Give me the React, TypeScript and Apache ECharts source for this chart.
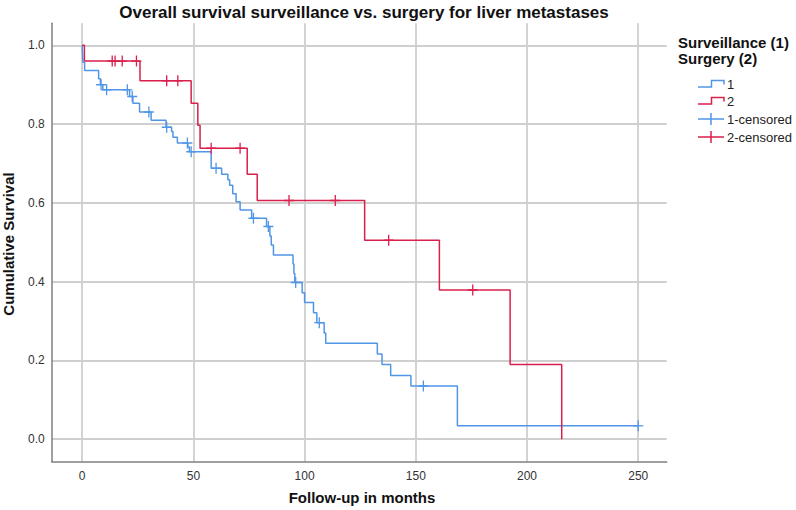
import React, { useEffect, useRef } from "react";
import * as echarts from "echarts";

const chartTitle = "Overall survival surveillance vs. surgery for liver metastases";
const xAxisTitle = "Follow-up in months";
const yAxisTitle = "Cumulative Survival";
const legendHeadings = ["Surveillance (1)", "Surgery (2)"];
const legendLabels = ["1", "2", "1-censored", "2-censored"];

// Group 1: surveillance (event times, survival after the event)
const surveillanceTimes = [0, 0.3, 1.1, 7.4, 8.2, 9.3, 21.3, 22.8, 25.8, 31, 37.7, 40.2, 40.8, 42.8, 47.5, 48.2, 58, 62.7, 65.5, 66.3, 67.7, 69.2, 71, 76.2, 82.9, 84.4, 85, 86, 94.8, 95.2, 95.6, 98.9, 100, 104, 105.5, 108.8, 109.5, 132.7, 134.8, 138.7, 147.8, 168.7, 250];
const surveillanceSurvival = [1, 0.957, 0.936, 0.915, 0.9, 0.887, 0.87, 0.853, 0.831, 0.81, 0.792, 0.781, 0.767, 0.752, 0.742, 0.73, 0.688, 0.673, 0.659, 0.645, 0.623, 0.603, 0.582, 0.561, 0.54, 0.516, 0.493, 0.468, 0.445, 0.421, 0.398, 0.372, 0.347, 0.321, 0.296, 0.27, 0.244, 0.2165, 0.19, 0.162, 0.135, 0.034, 0.034];
const surveillanceCensored = [8.5, 11, 20.3, 22.5, 30, 38, 47.3, 49, 60.2, 77, 83.7, 96, 106.6, 153.4, 250];

// Group 2: surgery
const surgeryTimes = [0, 1, 26, 49, 52, 53, 74.2, 78.7, 127, 160.6, 192.4, 215.6];
const surgerySurvival = [1, 0.96, 0.91, 0.853, 0.797, 0.739, 0.673, 0.606, 0.505, 0.379, 0.19, 0];
const surgeryCensored = [13.5, 14.8, 18, 24.4, 38, 43, 58, 71, 93, 113.8, 137.8, 175.6];

const BLUE = "#5096e6";
const RED = "#d91f4b";
const FONT = '"Liberation Sans", Arial, sans-serif';

const PLUS =
  "path://M8.7,0 L11.3,0 L11.3,8.7 L20,8.7 L20,11.3 L11.3,11.3 L11.3,20 L8.7,20 L8.7,11.3 L0,11.3 L0,8.7 L8.7,8.7 Z";

function levelAt(times: number[], surv: number[], t: number) {
  let v = surv[0];
  for (let i = 0; i < times.length; i++) {
    if (times[i] <= t) v = surv[i];
  }
  return v;
}

export default function App() {
  const ref = useRef<HTMLDivElement>(null);

  useEffect(() => {
    if (!ref.current) return;
    const chart = echarts.init(ref.current, undefined, { renderer: "svg" });

    const stepData = (times: number[], surv: number[]) => times.map((t, i) => [t, surv[i]]);
    const censorData = (times: number[], surv: number[], cens: number[]) =>
      cens.map((t) => [t, levelAt(times, surv, t)]);

    const legendX = 698;
    const rowsY = [84, 101, 119, 137];
    const colors = [BLUE, RED, BLUE, RED];
    const legendGraphics: any[] = [];
    legendHeadings.forEach((h, i) => {
      legendGraphics.push({
        type: "text",
        x: 678,
        y: 42 + i * 16,
        style: {
          text: h,
          fill: "#111",
          font: `bold 15px ${FONT}`,
          align: "left",
          verticalAlign: "middle",
          textAlign: "left",
          textVerticalAlign: "middle",
        },
      });
    });
    legendLabels.forEach((lab, i) => {
      const cy = rowsY[i];
      if (i < 2) {
        legendGraphics.push({
          type: "polyline",
          shape: {
            points: [
              [legendX, cy + 3],
              [legendX + 13.5, cy + 3],
              [legendX + 13.5, cy - 3.5],
              [legendX + 26, cy - 3.5],
              [legendX + 26, cy + 0.5],
            ],
          },
          style: { stroke: colors[i], lineWidth: 1.5, fill: "none" },
        });
      } else {
        legendGraphics.push({
          type: "line",
          shape: { x1: legendX, y1: cy, x2: legendX + 26, y2: cy },
          style: { stroke: colors[i], lineWidth: 1.5 },
        });
        legendGraphics.push({
          type: "line",
          shape: { x1: legendX + 13, y1: cy - 6, x2: legendX + 13, y2: cy + 6 },
          style: { stroke: colors[i], lineWidth: 1.5 },
        });
      }
      legendGraphics.push({
        type: "text",
        x: legendX + 29,
        y: cy,
        style: {
          text: lab,
          fill: "#222",
          font: `13px ${FONT}`,
          align: "left",
          verticalAlign: "middle",
          textAlign: "left",
          textVerticalAlign: "middle",
        },
      });
    });

    chart.setOption({
      animation: false,
      backgroundColor: "#ffffff",
      grid: { left: 51.7, right: 129.3, top: 23.3, bottom: 48.3, containLabel: false },
      xAxis: {
        type: "value",
        min: -13.7,
        max: 262.8,
        axisLine: { show: true, onZero: false, lineStyle: { color: "#808080", width: 1.5 } },
        axisTick: { show: false },
        axisLabel: {
          color: "#333",
          fontSize: 12,
          fontFamily: FONT,
          margin: 8,
          showMinLabel: false,
          showMaxLabel: false,
        },
        splitLine: {
          show: true,
          showMinLine: false,
          showMaxLine: false,
          lineStyle: { color: "#cfcfcf", width: 1.8 },
        },
      },
      yAxis: {
        type: "value",
        min: -0.057,
        max: 1.056,
        axisLine: { show: true, onZero: false, lineStyle: { color: "#808080", width: 1.5 } },
        axisTick: { show: false },
        axisLabel: {
          color: "#333",
          fontSize: 12,
          fontFamily: FONT,
          margin: 7,
          showMinLabel: false,
          showMaxLabel: false,
          formatter: (v: number) => v.toFixed(1),
        },
        splitLine: {
          show: true,
          showMinLine: false,
          showMaxLine: false,
          lineStyle: { color: "#cfcfcf", width: 1.8 },
        },
      },
      graphic: [
        {
          type: "text",
          x: 364,
          y: 12,
          style: {
            text: chartTitle,
            fill: "#111",
            font: `bold 17px ${FONT}`,
            align: "center",
            verticalAlign: "middle",
            textAlign: "center",
            textVerticalAlign: "middle",
          },
        },
        {
          type: "text",
          x: 362,
          y: 497,
          style: {
            text: xAxisTitle,
            fill: "#111",
            font: `bold 15px ${FONT}`,
            align: "center",
            verticalAlign: "middle",
            textAlign: "center",
            textVerticalAlign: "middle",
          },
        },
        {
          type: "text",
          x: 8,
          y: 244,
          rotation: Math.PI / 2,
          style: {
            text: yAxisTitle,
            fill: "#111",
            font: `bold 15px ${FONT}`,
            align: "center",
            verticalAlign: "middle",
            textAlign: "center",
            textVerticalAlign: "middle",
          },
        },
        ...legendGraphics,
      ],
      series: [
        {
          name: "1",
          type: "line",
          step: "end",
          data: stepData(surveillanceTimes, surveillanceSurvival),
          showSymbol: false,
          lineStyle: { color: BLUE, width: 1.5 },
          itemStyle: { color: BLUE },
          z: 2,
        },
        {
          name: "2",
          type: "line",
          step: "end",
          data: stepData(surgeryTimes, surgerySurvival),
          showSymbol: false,
          lineStyle: { color: RED, width: 1.5 },
          itemStyle: { color: RED },
          z: 3,
        },
        {
          name: "1-censored",
          type: "scatter",
          symbol: PLUS,
          symbolSize: [10, 11],
          data: censorData(surveillanceTimes, surveillanceSurvival, surveillanceCensored),
          itemStyle: { color: BLUE, opacity: 1 },
          z: 4,
        },
        {
          name: "2-censored",
          type: "scatter",
          symbol: PLUS,
          symbolSize: [10, 11],
          data: censorData(surgeryTimes, surgerySurvival, surgeryCensored),
          itemStyle: { color: RED, opacity: 1 },
          z: 5,
        },
      ],
    });

    return () => chart.dispose();
  }, []);

  return (
    <div
      ref={ref}
      style={{ position: "absolute", left: 0, top: 0, width: 796, height: 510 }}
    />
  );
}
